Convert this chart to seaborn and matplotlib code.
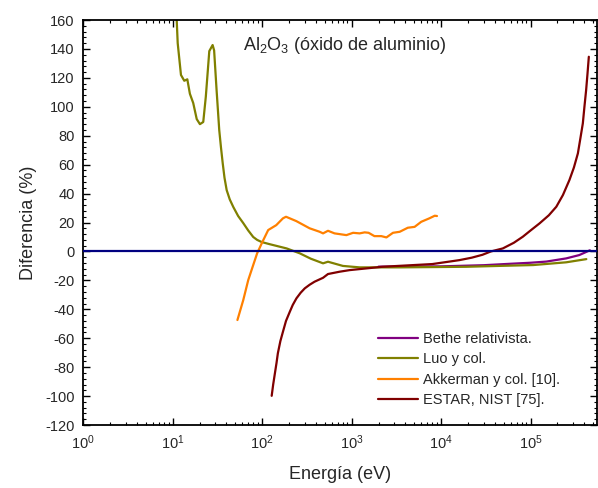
import numpy as np
import pandas as pd
import matplotlib
matplotlib.use("Agg")
import matplotlib.pyplot as plt
import seaborn as sns
from matplotlib.ticker import MultipleLocator, LogLocator, NullFormatter

# ---- data ----
bethe_x = [2e3, 1e4, 3e4, 6e4, 1e5, 1.5e5, 2.5e5, 3.5e5, 4.6e5]
bethe_y = [-10.5, -10.3, -9.5, -8.5, -7.8, -7.0, -4.8, -2.5, 0.8]

luo_x = [10.9, 11.4, 12.4, 13.5, 14.6, 15.6, 17.0, 18.6, 20.2, 22.0, 23.5, 25.7,
         28.0, 29.1, 31.0, 33.2, 34.7, 36.3, 38.0, 40.2, 43.5, 47.7, 54.0, 61.6,
         70.0, 79.6, 88.0, 99.0, 122, 188, 264, 350, 480, 545, 800, 1230, 3450,
         1.9e4, 4.4e4, 1.07e5, 2.5e5, 4.2e5]
luo_y = [172, 144, 122, 118, 119, 109, 102.6, 91.5, 88, 89.5, 107, 138.5,
         142.7, 139, 111.6, 83.9, 72, 61, 51, 42.4, 36, 30.7, 24.5, 19.6,
         14.5, 10, 8, 6.5, 5, 2.1, -1.3, -5, -8.2, -7.1, -10, -11, -11,
         -10.6, -10, -9.4, -7.5, -5.3]

akk_x = [53, 61.6, 70, 78.4, 88, 101, 117, 144, 171, 185, 241, 340, 440, 480,
         545, 645, 875, 1040, 1230, 1400, 1550, 1800, 2150, 2450, 2900, 3450,
         4250, 5060, 6000, 7400, 8500, 9000]
akk_y = [-47.4, -33.6, -19.8, -10.6, -1.3, 6.7, 14.8, 18.2, 22.9, 24.0, 21, 16,
         13.6, 12.5, 14.3, 12.5, 11.3, 12.9, 12.5, 13.2, 12.9, 10.6, 10.6, 9.7,
         12.9, 13.6, 16.4, 17, 20.5, 22.9, 24.7, 24.5]

estar_x = [128, 133, 139, 145, 150, 160, 171, 185, 204, 220, 242, 270, 300, 340,
           386, 480, 545, 735, 950, 2200, 8000, 1.6e4, 2.2e4, 2.9e4, 3.6e4,
           4.9e4, 6.5e4, 8.2e4, 1.0e5, 1.26e5, 1.6e5, 1.94e5, 2.3e5, 2.72e5,
           3.05e5, 3.38e5, 3.6e5, 3.84e5, 4.0e5, 4.18e5, 4.33e5, 4.48e5]
estar_y = [-99.8, -92, -84.3, -77, -70.4, -62, -55.5, -48, -41.7, -37, -32.4,
           -28.5, -25.5, -23, -20.9, -18.2, -15.6, -14, -12.9, -10.6, -8.7,
           -6.0, -4.3, -2.3, 0, 2.1, 6, 10.2, 14.5, 19.4, 25, 30.9, 39, 49.4,
           58, 67.8, 78, 88.6, 100, 111.6, 123, 134.6]

labels = ["Bethe relativista.", "Luo y col.", "Akkerman y col. [10].", "ESTAR, NIST [75]."]
colors = ["#800080", "#808000", "#FF8000", "#800000"]

frames = []
for lab, xs, ys in zip(labels, [bethe_x, luo_x, akk_x, estar_x],
                       [bethe_y, luo_y, akk_y, estar_y]):
    frames.append(pd.DataFrame({"E": xs, "D": ys, "serie": lab}))
df = pd.concat(frames, ignore_index=True)

# ---- style ----
sns.set_style("ticks")
plt.rcParams["font.family"] = ["Liberation Sans", "DejaVu Sans"]
plt.rcParams["mathtext.fontset"] = "custom"
plt.rcParams["mathtext.rm"] = "Liberation Sans"
plt.rcParams["mathtext.it"] = "Liberation Sans:italic"
plt.rcParams["mathtext.bf"] = "Liberation Sans:bold"
plt.rcParams["axes.unicode_minus"] = False

fig = plt.figure(figsize=(5.98, 4.88), dpi=100)
ax = fig.add_axes([0.139, 0.129, 0.859, 0.830])

sns.lineplot(data=df, x="E", y="D", hue="serie", hue_order=labels,
             palette=dict(zip(labels, colors)), sort=False, estimator=None,
             linewidth=1.6, ax=ax)
ax.axhline(0, color="#000080", linewidth=1.6, zorder=5)

ax.set_xscale("log")
ax.set_xlim(1, 5.5e5)
ax.set_ylim(-120, 160)
ax.yaxis.set_major_locator(MultipleLocator(20))
ax.yaxis.set_minor_locator(MultipleLocator(4))
ax.xaxis.set_major_locator(LogLocator(base=10, numticks=10))
ax.xaxis.set_minor_locator(LogLocator(base=10, subs=np.arange(2, 10), numticks=20))
ax.xaxis.set_minor_formatter(NullFormatter())

ax.tick_params(which="both", direction="in", top=True, right=True,
               labelsize=10.5, color="black")
ax.tick_params(which="major", length=5, width=1.0, pad=6)
ax.tick_params(which="minor", length=2.5, width=0.8)
for s in ax.spines.values():
    s.set_linewidth(1.3)
    s.set_color("black")

ax.set_xlabel("Energía (eV)", fontsize=13, labelpad=10)
ax.set_ylabel("Diferencia (%)", fontsize=13, labelpad=6)

ax.text(0.311, 0.937, "Al$_2$O$_3$ (óxido de aluminio)", transform=ax.transAxes,
        fontsize=13, ha="left", va="center")

leg = ax.legend(loc="upper left", bbox_to_anchor=(0.563, 0.245), frameon=False,
                fontsize=10.5, handlelength=2.7, handletextpad=0.4,
                labelspacing=0.45, borderaxespad=0)

fig.savefig("out.png", dpi=100)
